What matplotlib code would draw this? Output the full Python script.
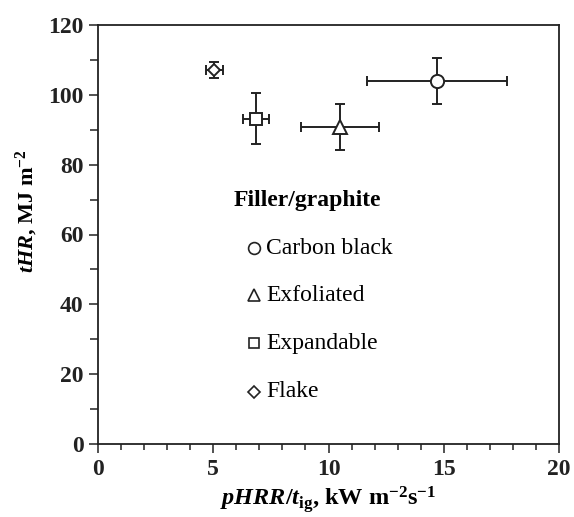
import numpy as np
import matplotlib
matplotlib.use("Agg")
import matplotlib.pyplot as plt
from matplotlib.ticker import MultipleLocator

plt.rcParams['font.family'] = 'Liberation Serif'
plt.rcParams['mathtext.fontset'] = 'custom'
plt.rcParams['mathtext.rm'] = 'Liberation Serif:bold'
plt.rcParams['mathtext.it'] = 'Liberation Serif:italic:bold'
plt.rcParams['mathtext.bf'] = 'Liberation Serif:bold'

# data
fillers = ["Carbon black", "Exfoliated", "Expandable", "Flake"]
markers = ["o", "^", "s", "D"]
x_vals = [14.7, 10.5, 6.85, 5.05]
x_err = [3.05, 1.7, 0.57, 0.36]
y_vals = [104.0, 90.8, 93.2, 107.2]
y_err = [6.5, 6.5, 7.3, 2.3]

# legend rows, in data units of y
legend_y = [56.1, 42.6, 28.9, 14.9]

ink = '#222222'
fig = plt.figure(figsize=(5.74, 5.17), dpi=100)
ax = fig.add_axes([98 / 574, 1 - 444 / 517, 461 / 574, 419 / 517])

msizes = [9.5, 10.5, 8, 6.5]
for x, xe, y, ye, m, ms in zip(x_vals, x_err, y_vals, y_err, markers, msizes):
    ax.errorbar(x, y, xerr=xe, yerr=ye, fmt=m, ms=ms, mfc='white', mec=ink,
                mew=1.4, ecolor=ink, elinewidth=1.4, capsize=3.5, capthick=1.4, zorder=3)

ax.set_xlim(0, 20)
ax.set_ylim(0, 120)
ax.xaxis.set_major_locator(MultipleLocator(5))
ax.xaxis.set_minor_locator(MultipleLocator(1))
ax.yaxis.set_major_locator(MultipleLocator(20))
ax.yaxis.set_minor_locator(MultipleLocator(10))
ax.tick_params(which='major', direction='out', length=6.5, width=1.1, labelsize=17, pad=4, colors=ink)
ax.tick_params(which='minor', direction='out', length=4.5, width=1.1, colors=ink)
ax.tick_params(axis='y', which='minor', length=5.5)
for lab in ax.get_xticklabels() + ax.get_yticklabels():
    lab.set_fontweight('bold')
for sp in ax.spines.values():
    sp.set_linewidth(1.3)
    sp.set_color(ink)

ax.set_xlabel(r"$pHRR/t_{\mathrm{ig}}$, kW m$^{-2}$s$^{-1}$", fontsize=17.5, fontweight='bold', labelpad=3)
ax.set_ylabel(r"$tHR$, MJ m$^{-2}$", fontsize=16, fontweight='bold', labelpad=6)
ax.yaxis.label.set_y(0.556)

# legend drawn as marker + text
ax.text(5.9, 69.6, "Filler/graphite", fontsize=17, fontweight='bold', ha='left', va='center')
leg_ms = [8.5, 9, 7.5, 6]
for name, m, yy, ms in zip(fillers, markers, legend_y, leg_ms):
    ax.plot([6.75], [yy], marker=m, ms=ms, mfc='white', mec=ink, mew=1.2, ls='none')
    ax.text(7.3, yy, name, fontsize=17, ha='left', va='center')

fig.savefig("out.png", dpi=100)
